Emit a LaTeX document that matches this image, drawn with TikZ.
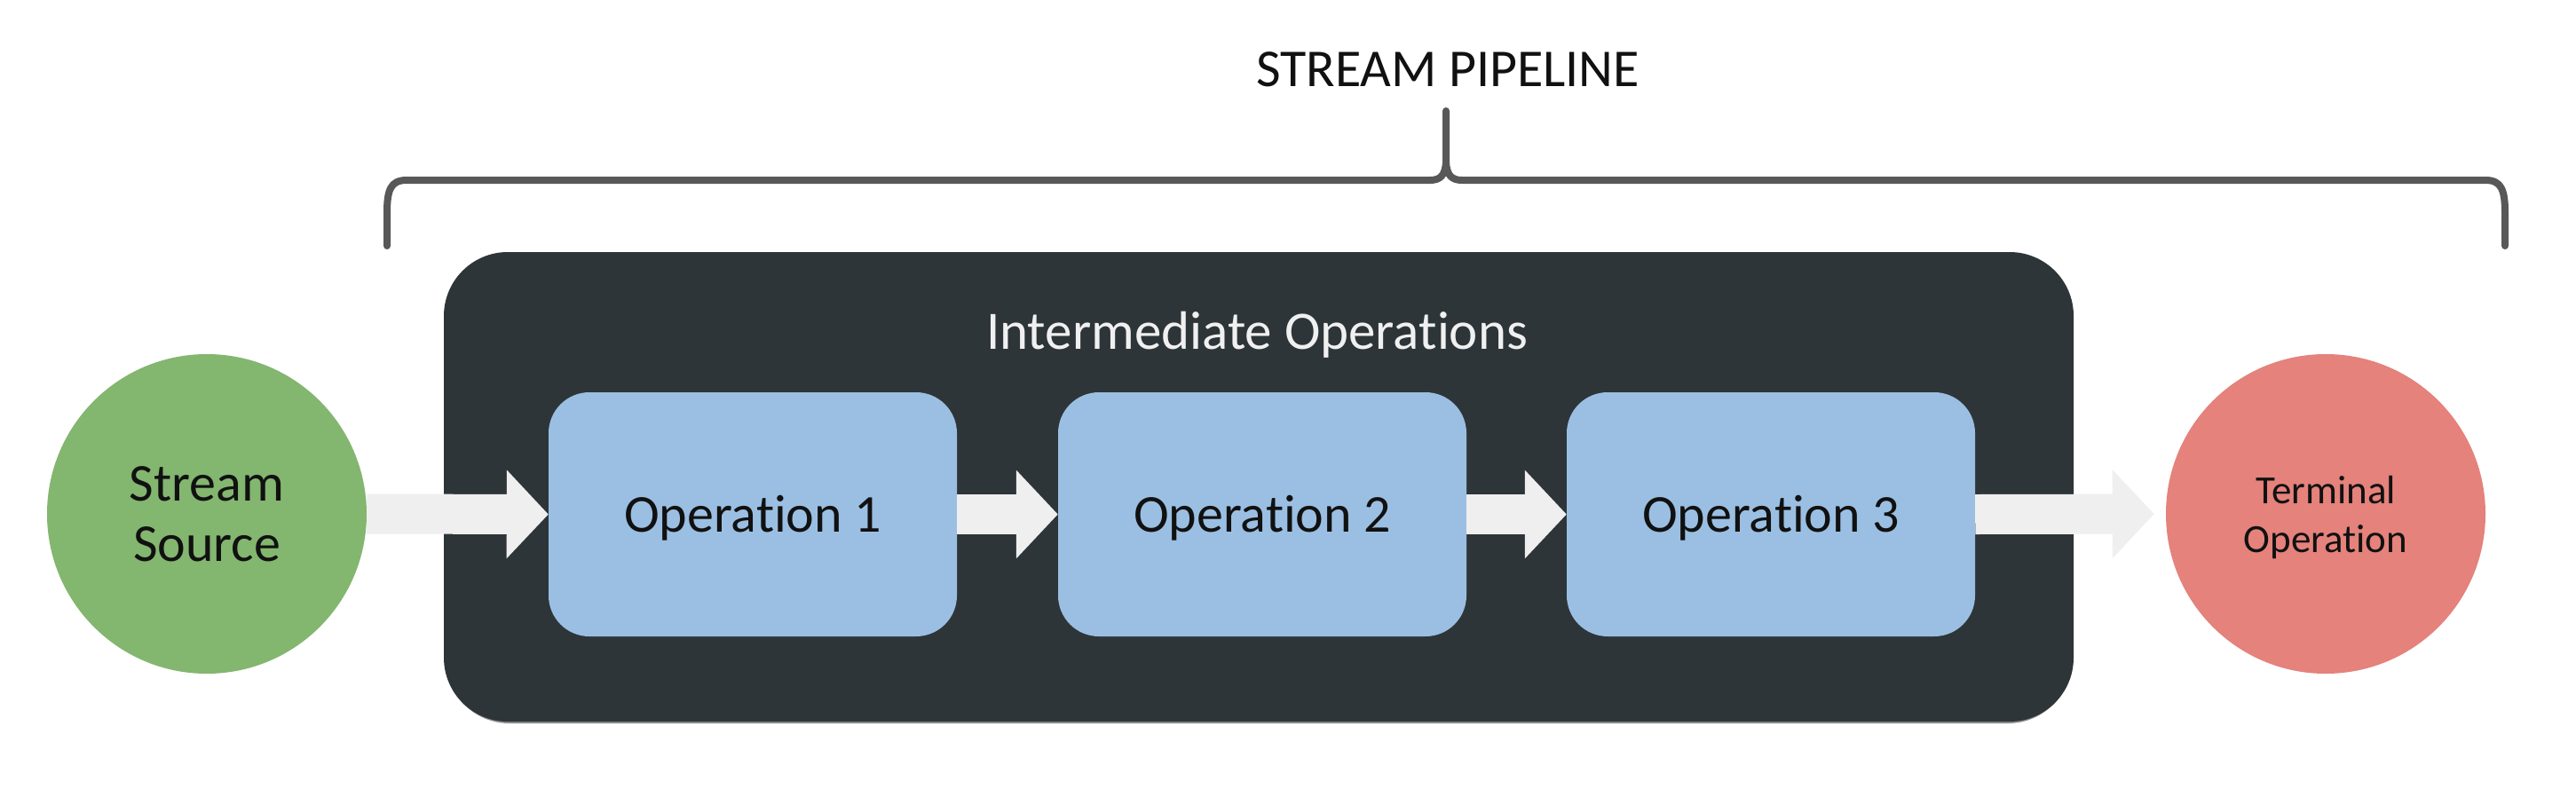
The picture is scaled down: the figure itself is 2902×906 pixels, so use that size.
\documentclass[tikz,border=0pt]{standalone}
\usepackage{fontspec}
\setmainfont{Carlito}[Ligatures={NoCommon,NoContextual}]
\usetikzlibrary{arrows.meta}
\definecolor{srcgreen}{HTML}{83B66F}
\definecolor{termred}{HTML}{E4827B}
\definecolor{opblue}{HTML}{9BBFE2}
\definecolor{panelcol}{HTML}{2E3538}
\definecolor{flowcol}{HTML}{EFEFEF}
\definecolor{bracecol}{HTML}{585858}
\definecolor{inktext}{HTML}{111111}
\begin{document}
\begin{tikzpicture}[x=1pt,y=-1pt,
  endpoint/.style={circle, minimum size=360pt, inner sep=0pt, align=center, text=inktext},
  opbox/.style={rectangle, rounded corners=46pt, fill=opblue, minimum width=460pt,
    minimum height=275pt, inner sep=0pt, text=inktext,
    font=\fontsize{60}{72}\selectfont, text height=40pt, text depth=0pt},
  panelbox/.style={rectangle, rounded corners=72pt, fill=panelcol, minimum width=1836pt,
    minimum height=529pt, inner sep=0pt},
  flowarrow/.style={draw=flowcol, line width=45pt, -{Triangle[length=47pt,width=97pt]}},
  bracepath/.style={draw=bracecol, line width=8pt, line cap=round, line join=round}]
\fill[white] (0,0) rectangle (2902,906);
\useasboundingbox (0,0) rectangle (2902,906);
% brace
\draw[bracepath] (436,277) -- (436,240) .. controls (436,214) and (440,203) .. (458,203)
  -- (1611,203) .. controls (1623,203) and (1628,197) .. (1629,183) -- (1629,125);
\draw[bracepath] (2822,277) -- (2822,240) .. controls (2822,214) and (2818,203) .. (2800,203)
  -- (1647,203) .. controls (1635,203) and (1630,197) .. (1629,183);
\node[font=\fontsize{60}{72}\selectfont, text=inktext, anchor=base] (pipe) at (1631,97) {STREAM PIPELINE};
% panel
\fill[black!45, rounded corners=72pt] (502,287) rectangle (2334,815);
\node[panelbox] (inter) at (1418,548.5) {};
\node[font=\fontsize{61}{72}\selectfont, text=white!94!black, anchor=base] (intert) at (1416,393) {Intermediate Operations};
% nodes
\node[endpoint, fill=srcgreen, font=\fontsize{60}{68}\selectfont] (src) at (233,579) {Stream\\Source};
\node[endpoint, fill=termred, font=\fontsize{45}{55}\selectfont, text depth=0pt] (term) at (2620,579) {Terminal\\Operation};
\node[opbox] (op1) at (848,579.5) {Operation 1};
\node[opbox] (op2) at (1422,579.5) {Operation 2};
\node[opbox] (op3) at (1995,579.5) {Operation 3};
% arrows
\draw[flowarrow] (src.east) -- (op1.west);
\draw[flowarrow] (op1.east) -- (op2.west);
\draw[flowarrow] (op2.east) -- (op3.west);
\draw[flowarrow, shorten >=13pt] (op3.east) -- (term.west);
\end{tikzpicture}
\end{document}
